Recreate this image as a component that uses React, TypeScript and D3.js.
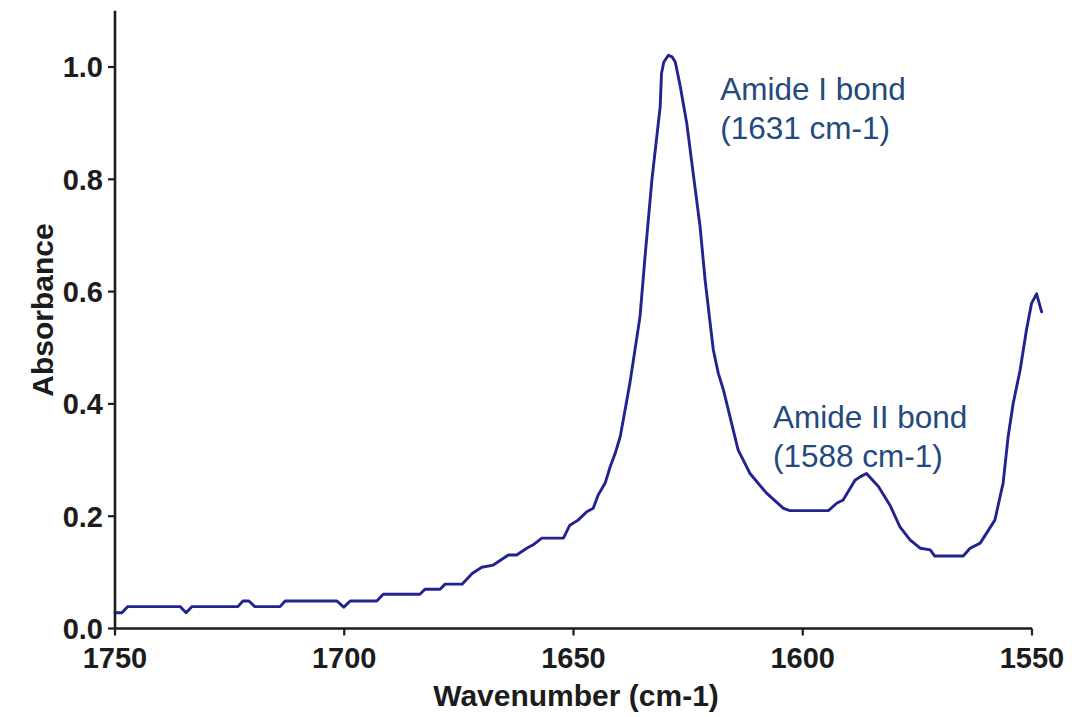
import React from "react";
import * as d3 from "d3";

const wavenumbers: number[] = [
  1750, 1748.5, 1747.2, 1735.8, 1734.5, 1733.2, 1723.2, 1722.1, 1720.8, 1719.5,
  1714.0, 1712.9, 1701.6, 1700.1, 1698.7, 1692.9, 1691.5, 1683.5, 1682.4, 1679.1,
  1678.0, 1674.3, 1672.1, 1670.0, 1667.5, 1664.2, 1662.4, 1660.2, 1658.8, 1656.9,
  1652.2, 1650.8, 1649.0, 1647.1, 1645.7, 1644.6, 1643.1, 1642.0, 1640.9, 1639.8,
  1637.7, 1635.5, 1634.4, 1632.9, 1631.1, 1630.8, 1630.3, 1629.3, 1628.5, 1627.8,
  1626.7, 1625.3, 1623.9, 1622.4, 1621.3, 1620.2, 1619.5, 1618.4, 1617.3, 1614.1,
  1611.5, 1607.9, 1604.2, 1602.8, 1594.4, 1592.6, 1591.2, 1588.6, 1587.5, 1586.1,
  1583.5, 1581.0, 1578.8, 1576.6, 1574.4, 1572.2, 1571.2, 1565.0, 1563.5, 1561.3,
  1558.1, 1556.3, 1555.2, 1554.1, 1552.6, 1551.2, 1550.1, 1549.0, 1547.9,
];

const absorbance: number[] = [
  0.028, 0.028, 0.039, 0.039, 0.028, 0.039, 0.039, 0.049, 0.049, 0.039,
  0.039, 0.049, 0.049, 0.038, 0.049, 0.049, 0.061, 0.061, 0.070, 0.070,
  0.079, 0.079, 0.098, 0.109, 0.113, 0.131, 0.131, 0.143, 0.149, 0.161,
  0.161, 0.184, 0.193, 0.208, 0.214, 0.238, 0.259, 0.288, 0.312, 0.342,
  0.437, 0.555, 0.662, 0.799, 0.929, 0.989, 1.009, 1.021, 1.018, 1.009,
  0.965, 0.900, 0.811, 0.716, 0.621, 0.544, 0.496, 0.454, 0.425, 0.318,
  0.276, 0.241, 0.214, 0.210, 0.210, 0.223, 0.229, 0.264, 0.270, 0.276,
  0.253, 0.220, 0.181, 0.158, 0.143, 0.140, 0.129, 0.129, 0.143, 0.152,
  0.193, 0.259, 0.342, 0.401, 0.460, 0.532, 0.579, 0.596, 0.564,
];

const xTicks: number[] = [1750, 1700, 1650, 1600, 1550];
const yTicks: number[] = [0, 0.2, 0.4, 0.6, 0.8, 1.0];

const annotationLines: string[][] = [
  ["Amide I bond", "(1631 cm-1)"],
  ["Amide II bond", "(1588 cm-1)"],
];
const annotationAnchors: [number, number][] = [
  [1618.0, 0.941],
  [1606.5, 0.357],
];

const xTitle = "Wavenumber (cm-1)";
const yTitle = "Absorbance";

export default function App() {
  const W = 1084;
  const H = 717;
  const x = d3.scaleLinear().domain([1750, 1550]).range([115, 1032]);
  const y = d3.scaleLinear().domain([0, 1]).range([628.5, 67]);
  const pts: [number, number][] = wavenumbers.map((w, i) => [w, absorbance[i]]);
  const line = d3
    .line<[number, number]>()
    .x((d) => x(d[0]))
    .y((d) => y(d[1]))
    .curve(d3.curveLinear);
  const axisColor = "#1c1c1c";
  const fmt = d3.format(".1f");
  const x0 = x(1750);
  const y0 = y(0);
  const yTop = y(1.1);
  const tickFont = "Liberation Sans, Arial, Helvetica, sans-serif";

  return (
    <svg
      width={W}
      height={H}
      style={{ position: "absolute", left: 0, top: 0, background: "#fff" }}
    >
      <rect x={0} y={0} width={W} height={H} fill="#fff" />
      <path
        d={line(pts) || ""}
        fill="none"
        stroke="#23238f"
        strokeWidth={2.9}
        strokeLinejoin="round"
        strokeLinecap="round"
      />
      <line x1={x0} x2={x0} y1={yTop} y2={y0} stroke={axisColor} strokeWidth={2.6} />
      <line x1={x0} x2={x(1550)} y1={y0} y2={y0} stroke={axisColor} strokeWidth={2.6} />
      {yTicks.map((t) => (
        <g key={"y" + t}>
          <line x1={x0 - 7} x2={x0} y1={y(t)} y2={y(t)} stroke={axisColor} strokeWidth={2.2} />
          <text
            x={x0 - 12}
            y={y(t)}
            dy="0.36em"
            textAnchor="end"
            fontFamily={tickFont}
            fontWeight="bold"
            fontSize={29}
            fill="#1c1c1c"
          >
            {fmt(t)}
          </text>
        </g>
      ))}
      {xTicks.map((t) => (
        <g key={"x" + t}>
          <line x1={x(t)} x2={x(t)} y1={y0} y2={y0 + 7} stroke={axisColor} strokeWidth={2.2} />
          <text
            x={x(t)}
            y={668}
            textAnchor="middle"
            fontFamily={tickFont}
            fontWeight="bold"
            fontSize={29}
            fill="#1c1c1c"
          >
            {t}
          </text>
        </g>
      ))}
      <text
        x={576}
        y={706}
        textAnchor="middle"
        fontFamily={tickFont}
        fontWeight="bold"
        fontSize={30}
        fill="#1c1c1c"
      >
        {xTitle}
      </text>
      <text
        transform={`translate(53, 310) rotate(-90)`}
        textAnchor="middle"
        fontFamily={tickFont}
        fontWeight="bold"
        fontSize={30}
        fill="#1c1c1c"
      >
        {yTitle}
      </text>
      {annotationLines.map((lines, i) => (
        <text
          key={"a" + i}
          x={x(annotationAnchors[i][0])}
          y={y(annotationAnchors[i][1])}
          fontFamily={tickFont}
          fontSize={31.5}
          fill="#24497c"
        >
          {lines.map((l, j) => (
            <tspan key={j} x={x(annotationAnchors[i][0])} dy={j === 0 ? 0 : 39}>
              {l}
            </tspan>
          ))}
        </text>
      ))}
    </svg>
  );
}
